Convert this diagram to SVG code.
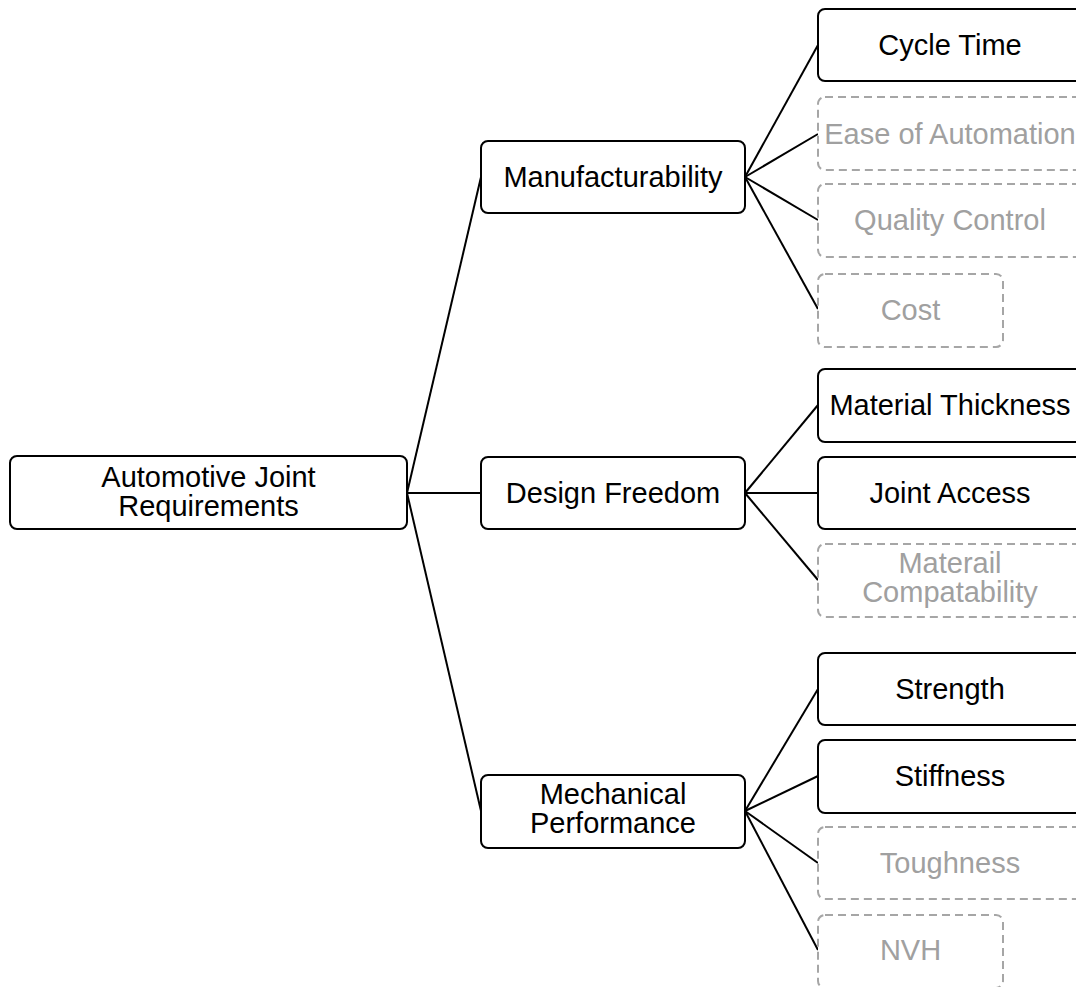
<svg xmlns="http://www.w3.org/2000/svg" width="1076" height="987" viewBox="0 0 1076 987">
  <style>
    .box { fill: #ffffff; stroke: #000000; stroke-width: 2; }
    .opt { fill: #ffffff; stroke: #a6a6a6; stroke-width: 2; stroke-dasharray: 8 5; }
    .lbl { font-family: "Liberation Sans", Arial, sans-serif; font-size: 29px; fill: #000000; text-anchor: middle; }
    .lbl-opt { font-family: "Liberation Sans", Arial, sans-serif; font-size: 29px; fill: #a0a0a0; text-anchor: middle; }
    .edge { stroke: #000000; stroke-width: 2; fill: none; }
  </style>
  <rect width="1076" height="987" fill="#ffffff"/>

  <!-- connectors -->
  <g id="connectors">
    <line class="edge" x1="407" y1="493" x2="481" y2="177"/>
    <line class="edge" x1="407" y1="493" x2="481" y2="493"/>
    <line class="edge" x1="407" y1="493" x2="481" y2="811"/>

    <line class="edge" x1="745" y1="177" x2="818" y2="45"/>
    <line class="edge" x1="745" y1="177" x2="818" y2="134"/>
    <line class="edge" x1="745" y1="177" x2="818" y2="220"/>
    <line class="edge" x1="745" y1="177" x2="818" y2="309"/>

    <line class="edge" x1="745" y1="493" x2="818" y2="405"/>
    <line class="edge" x1="745" y1="493" x2="818" y2="493"/>
    <line class="edge" x1="745" y1="493" x2="818" y2="580"/>

    <line class="edge" x1="745" y1="811" x2="818" y2="689"/>
    <line class="edge" x1="745" y1="811" x2="818" y2="776"/>
    <line class="edge" x1="745" y1="811" x2="818" y2="863"/>
    <line class="edge" x1="745" y1="811" x2="818" y2="950"/>
  </g>

  <!-- root -->
  <g id="root">
    <rect class="box" x="10" y="456" width="397" height="73" rx="7"/>
    <text class="lbl" x="208.5" y="487">Automotive Joint</text>
    <text class="lbl" x="208.5" y="516">Requirements</text>
  </g>

  <!-- second level -->
  <g id="manufacturability">
    <rect class="box" x="481" y="141" width="264" height="72" rx="7"/>
    <text class="lbl" x="613" y="187">Manufacturability</text>
  </g>
  <g id="design-freedom">
    <rect class="box" x="481" y="457" width="264" height="72" rx="7"/>
    <text class="lbl" x="613" y="503">Design Freedom</text>
  </g>
  <g id="mechanical-performance">
    <rect class="box" x="481" y="775" width="264" height="73" rx="7"/>
    <text class="lbl" x="613" y="804">Mechanical</text>
    <text class="lbl" x="613" y="833">Performance</text>
  </g>

  <!-- manufacturability leaves -->
  <g id="cycle-time">
    <rect class="box" x="818" y="9" width="264" height="72" rx="7"/>
    <text class="lbl" x="950" y="55">Cycle Time</text>
  </g>
  <g id="ease-of-automation">
    <rect class="opt" x="818" y="97" width="264" height="73" rx="7"/>
    <text class="lbl-opt" x="950" y="144">Ease of Automation</text>
  </g>
  <g id="quality-control">
    <rect class="opt" x="818" y="184" width="264" height="73" rx="7"/>
    <text class="lbl-opt" x="950" y="230">Quality Control</text>
  </g>
  <g id="cost">
    <rect class="opt" x="818" y="274" width="185" height="73" rx="7"/>
    <text class="lbl-opt" x="910.5" y="320">Cost</text>
  </g>

  <!-- design freedom leaves -->
  <g id="material-thickness">
    <rect class="box" x="818" y="369" width="264" height="73" rx="7"/>
    <text class="lbl" x="950" y="415">Material Thickness</text>
  </g>
  <g id="joint-access">
    <rect class="box" x="818" y="457" width="264" height="72" rx="7"/>
    <text class="lbl" x="950" y="503">Joint Access</text>
  </g>
  <g id="material-compatibility">
    <rect class="opt" x="818" y="544" width="264" height="73" rx="7"/>
    <text class="lbl-opt" x="950" y="573">Materail</text>
    <text class="lbl-opt" x="950" y="602">Compatability</text>
  </g>

  <!-- mechanical performance leaves -->
  <g id="strength">
    <rect class="box" x="818" y="653" width="264" height="72" rx="7"/>
    <text class="lbl" x="950" y="699">Strength</text>
  </g>
  <g id="stiffness">
    <rect class="box" x="818" y="740" width="264" height="73" rx="7"/>
    <text class="lbl" x="950" y="786">Stiffness</text>
  </g>
  <g id="toughness">
    <rect class="opt" x="818" y="827" width="264" height="72" rx="7"/>
    <text class="lbl-opt" x="950" y="873">Toughness</text>
  </g>
  <g id="nvh">
    <rect class="opt" x="818" y="915" width="185" height="73" rx="7"/>
    <text class="lbl-opt" x="910.5" y="960">NVH</text>
  </g>
</svg>
